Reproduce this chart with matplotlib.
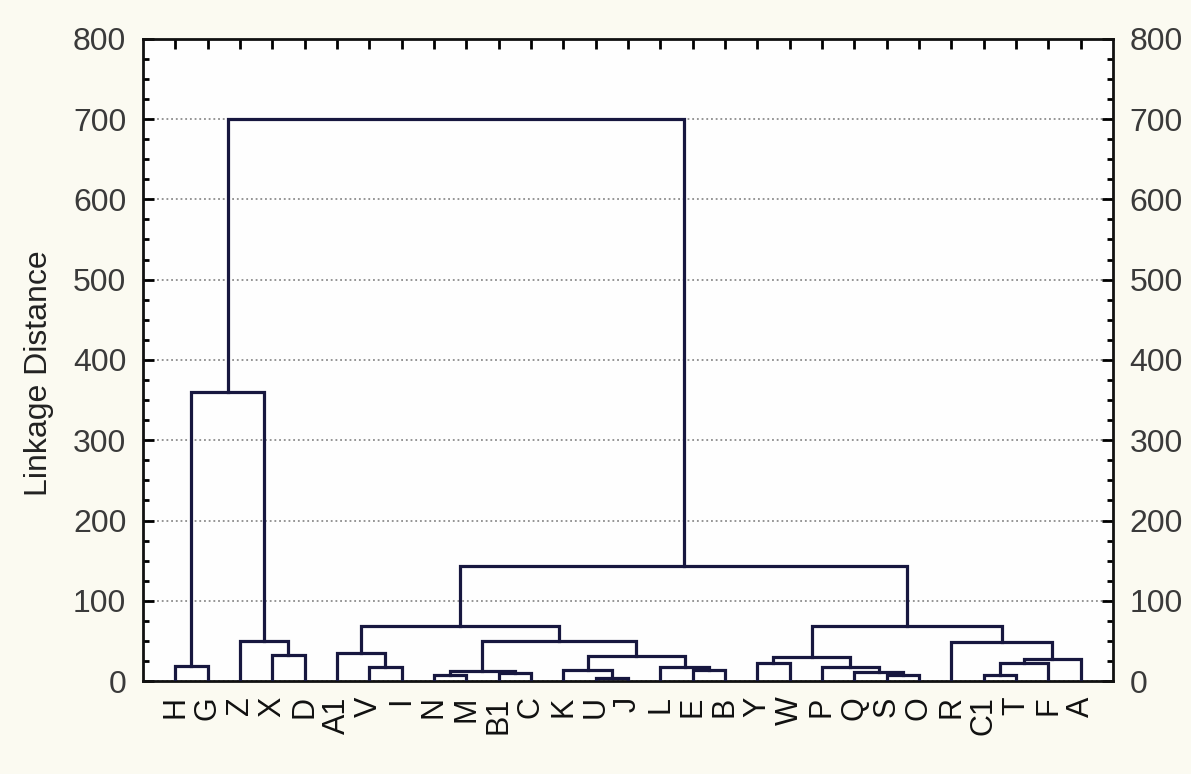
import matplotlib
matplotlib.use("Agg")
import matplotlib.pyplot as plt
from matplotlib.ticker import MultipleLocator

# leaf labels, in the order they appear on the tree
labels = ['H', 'G', 'Z', 'X', 'D', 'A1', 'V', 'I', 'N', 'M', 'B1', 'C', 'K', 'U',
          'J', 'L', 'E', 'B', 'Y', 'W', 'P', 'Q', 'S', 'O', 'R', 'C1', 'T', 'F', 'A']

# merges, scipy-linkage style: clusters 0..28 are leaves, each merge makes a new id (29, 30, ...)
merge_a = [0, 3, 2, 29, 6, 5, 8, 10, 35, 13, 12, 16, 15, 39, 37, 34,
           18, 22, 21, 20, 45, 25, 50, 51, 24, 49, 44, 32]
merge_b = [1, 4, 30, 31, 7, 33, 9, 11, 36, 14, 38, 17, 40, 41, 42, 43,
           19, 23, 46, 47, 48, 26, 27, 28, 52, 53, 54, 55]
merge_h = [19, 33, 50, 360, 18, 35, 7.5, 10, 13, 4, 13.5, 13.5, 17.5, 31.5, 49.5, 68.5,
           23, 8, 11.5, 17, 30, 8, 22.5, 27, 49, 68.5, 143, 700]

yticks = list(range(0, 801, 100))

line_col = '#17173f'

fig = plt.figure(figsize=(11.91, 7.74), dpi=100)
fig.patch.set_facecolor('#fbfaf1')
ax = fig.add_axes([0.120, 0.120, 0.8145, 0.830])
ax.set_facecolor('#fefefe')

# position and height of every cluster
xpos = {i: i + 1 for i in range(len(labels))}
hgt = {i: 0 for i in range(len(labels))}
for k, (a, b, h) in enumerate(zip(merge_a, merge_b, merge_h)):
    new = len(labels) + k
    ax.plot([xpos[a], xpos[a], xpos[b], xpos[b]], [hgt[a], h, h, hgt[b]],
            color=line_col, lw=2.3, solid_joinstyle='miter', zorder=3)
    xpos[new] = (xpos[a] + xpos[b]) / 2
    hgt[new] = h

ax.set_xlim(0, 30)
ax.set_ylim(0, 800)

ax.set_xticks(range(1, len(labels) + 1))
ax.set_xticklabels(labels, rotation=90, fontsize=22, family='Liberation Sans', color='#111111')
ax.tick_params(axis='x', bottom=False, top=True, direction='in', length=7, width=2, pad=11)

ax.set_yticks(yticks)
ax.set_yticklabels([str(v) for v in yticks], family='Liberation Sans', fontsize=23, color='#3a3a3a')
ax.yaxis.set_minor_locator(MultipleLocator(25))
ax.tick_params(axis='y', which='both', left=True, right=True, labelleft=True, labelright=True,
               direction='in', width=2)
ax.tick_params(axis='y', which='major', length=8, pad=12)
ax.tick_params(axis='y', which='minor', length=4)

ax.grid(axis='y', which='major', linestyle=(0, (1, 1.6)), color='#8c8c8c', lw=1.3, zorder=0)
for s in ax.spines.values():
    s.set_linewidth(2)
    s.set_color('#111111')

ax.set_ylabel('Linkage Distance', fontsize=23, family='Liberation Sans', color='#222222')
ax.yaxis.set_label_coords(-0.092, 0.48)

fig.savefig('out.png', dpi=100, facecolor=fig.get_facecolor())
